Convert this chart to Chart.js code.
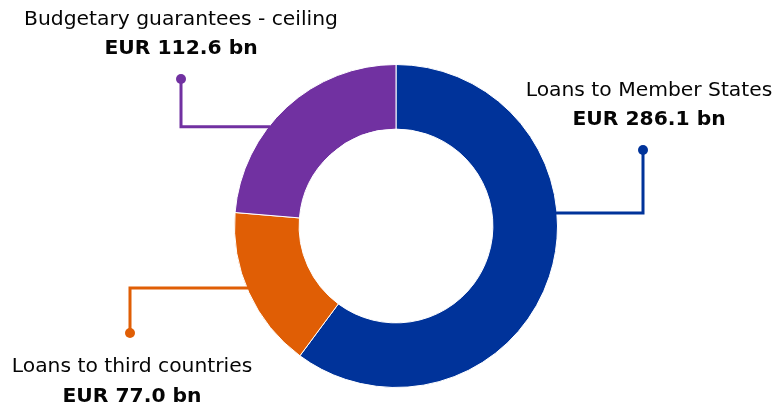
<!DOCTYPE html>
<html>
<head>
<meta charset="utf-8">
<script src="https://cdn.jsdelivr.net/npm/chart.js@4/dist/chart.umd.min.js"></script>
<style>
  html, body { margin: 0; padding: 0; background: #ffffff; }
  #wrap { width: 777px; height: 409px; position: relative; }
</style>
</head>
<body>
<div id="wrap"><canvas id="c"></canvas></div>
<script>
// ---- data ----
const categories = ["Loans to Member States", "Loans to third countries", "Budgetary guarantees - ceiling"];
const values = [286.1, 77.0, 112.6];
const valueLabels = ["EUR 286.1 bn", "EUR 77.0 bn", "EUR 112.6 bn"];
const colors = ["#00339A", "#E05E05", "#7131A1"];

// leader-line layout (angle of attach point on ring, dot offset from centre, text offsets from dot)
const leaderLayout = [
  { angle: -4.6,   dot: [247, -76],  title: [6, -59],  value: [6, -30] },
  { angle: 157.4,  dot: [-266, 107], title: [2, 34],   value: [2, 64] },
  { angle: -142.1, dot: [-215, -147], title: [0, -59], value: [0, -30] }
];

const FONT = '"DejaVu Sans", "Open Sans", sans-serif';

const leaderPlugin = {
  id: 'leaders',
  afterDraw(chart) {
    const ctx = chart.ctx;
    const meta = chart.getDatasetMeta(0);
    const arc0 = meta.data[0];
    const cx = arc0.x, cy = arc0.y, r = arc0.outerRadius;
    leaderLayout.forEach((L, i) => {
      const a = L.angle * Math.PI / 180;
      const ax = cx + r * Math.cos(a) - Math.sign(Math.cos(a)) * 1.5;
      const ay = cy + r * Math.sin(a);
      const dx = cx + L.dot[0], dy = cy + L.dot[1];
      ctx.save();
      ctx.strokeStyle = colors[i];
      ctx.lineWidth = 3;
      ctx.beginPath();
      ctx.moveTo(ax, ay);
      ctx.lineTo(dx, ay);
      ctx.lineTo(dx, dy);
      ctx.stroke();
      ctx.fillStyle = colors[i];
      ctx.beginPath();
      ctx.arc(dx, dy, 5, 0, Math.PI * 2);
      ctx.fill();
      ctx.fillStyle = '#050505';
      ctx.textAlign = 'center';
      ctx.textBaseline = 'middle';
      ctx.font = '400 20.3px ' + FONT;
      ctx.fillText(categories[i], dx + L.title[0], dy + L.title[1]);
      ctx.font = '700 20.3px ' + FONT;
      ctx.fillText(valueLabels[i], dx + L.value[0], dy + L.value[1]);
      ctx.restore();
    });
  }
};

new Chart(document.getElementById('c'), {
  type: 'doughnut',
  data: {
    labels: categories,
    datasets: [{
      data: values,
      backgroundColor: colors,
      borderColor: '#ffffff',
      borderWidth: 1,
      hoverOffset: 0
    }]
  },
  options: {
    responsive: true,
    maintainAspectRatio: false,
    animation: false,
    cutout: '60%',
    rotation: 0,
    layout: { padding: { top: 64, bottom: 21, left: 15, right: 0 } },
    plugins: {
      legend: { display: false },
      tooltip: { enabled: false }
    }
  },
  plugins: [leaderPlugin]
});
</script>
</body>
</html>
